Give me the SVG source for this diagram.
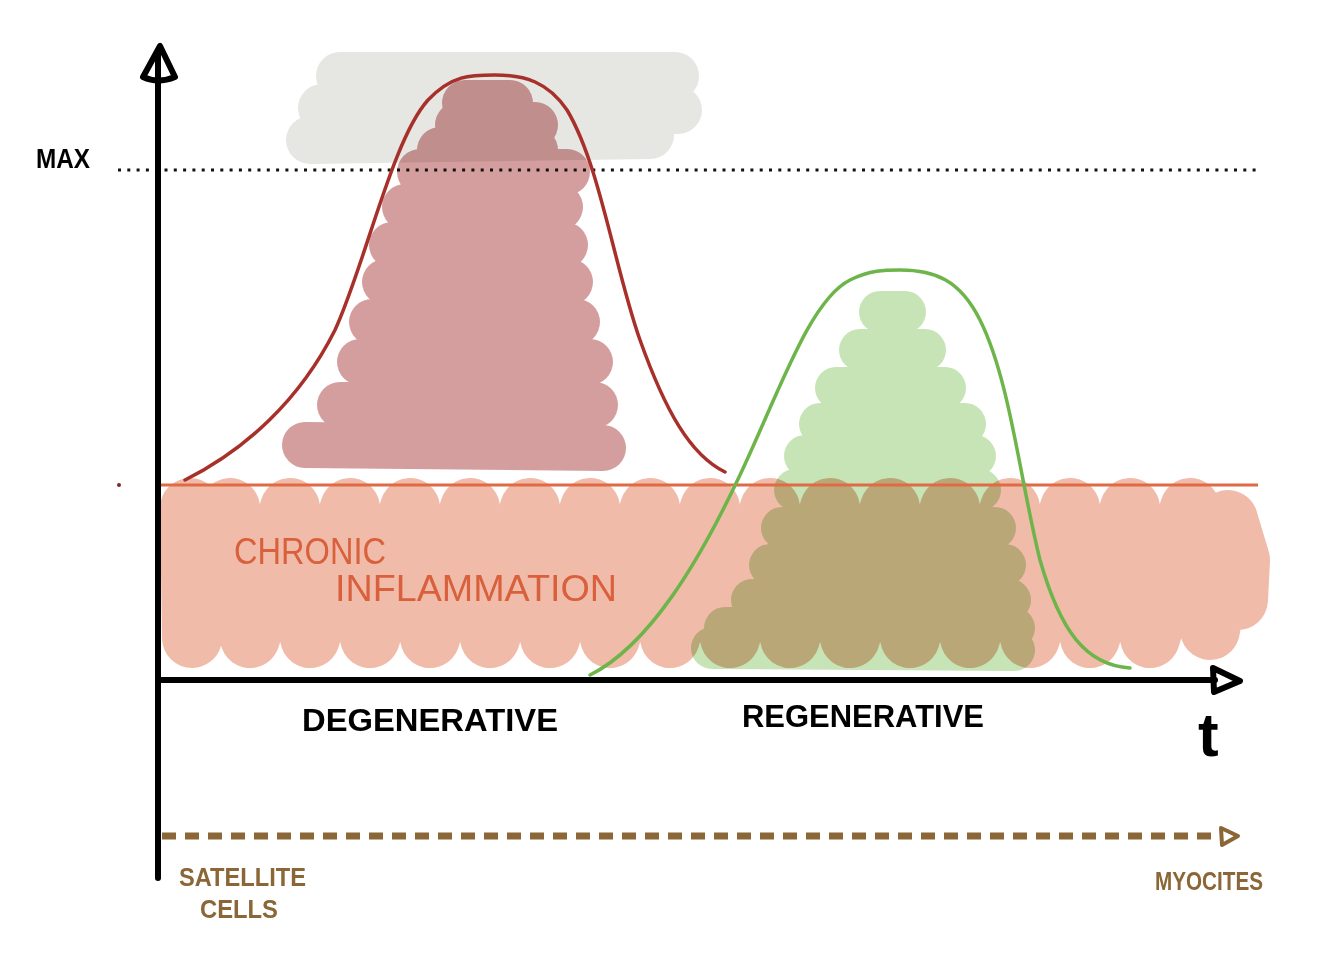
<svg xmlns="http://www.w3.org/2000/svg" width="1338" height="978" viewBox="0 0 1338 978">
<style>
.ax{stroke:#000;stroke-width:6;fill:none;stroke-linecap:round;stroke-linejoin:round}
.blend{mix-blend-mode:multiply}
.hand{font-family:"Liberation Sans","DejaVu Sans",sans-serif;font-weight:bold}
.inf{font-family:"Liberation Sans","DejaVu Sans",sans-serif;fill:#d9603c;font-size:36px}
.brown{fill:#8b6636}
</style>
<rect width="1338" height="978" fill="#fff"/>
<g id="cloud" stroke="#e6e6e2" stroke-width="48" stroke-linecap="round" fill="none">
<line x1="340" y1="76" x2="675" y2="76"/>
<line x1="322" y1="108" x2="678" y2="110"/>
<line x1="310" y1="140" x2="650" y2="135"/>
</g>
<g id="chronic-band">
<polyline fill="none" stroke="#f0bba8" stroke-width="60" stroke-linecap="round" stroke-linejoin="round" points="190,508 192,638 230,508 250,638 290,508 310,638 350,508 370,638 410,508 430,638 470,508 490,638 530,508 550,638 590,508 610,638 650,508 670,638 710,508 730,638 770,508 790,638 830,508 850,638 890,508 910,638 950,508 970,638 1010,508 1030,638 1070,508 1090,638 1130,508 1150,638 1190,508 1210,630 1228,520 1240,560 1238,600"/>
</g>
<g id="degenerative-fill" class="blend" stroke="#d59e9e" stroke-width="46" stroke-linecap="round" fill="none">
<line x1="305" y1="445" x2="603" y2="448"/>
<line x1="340" y1="405" x2="595" y2="405"/>
<line x1="360" y1="362" x2="590" y2="362"/>
<line x1="372" y1="322" x2="577" y2="322"/>
<line x1="385" y1="282" x2="570" y2="282"/>
<line x1="392" y1="245" x2="565" y2="245"/>
<line x1="405" y1="207" x2="560" y2="207"/>
<line x1="420" y1="172" x2="567" y2="172"/>
<line x1="440" y1="150" x2="535" y2="150"/>
<line x1="458" y1="125" x2="535" y2="125"/>
<line x1="465" y1="103" x2="510" y2="103"/>
</g>
<g id="regenerative-fill" class="blend" stroke="#c6e4b6" stroke-width="42" stroke-linecap="round" fill="none">
<line x1="880" y1="312" x2="905" y2="312"/>
<line x1="860" y1="350" x2="925" y2="350"/>
<line x1="836" y1="388" x2="945" y2="388"/>
<line x1="820" y1="424" x2="965" y2="424"/>
<line x1="805" y1="456" x2="975" y2="456"/>
<line x1="795" y1="490" x2="980" y2="490"/>
<line x1="782" y1="528" x2="995" y2="528"/>
<line x1="770" y1="565" x2="1005" y2="565"/>
<line x1="752" y1="600" x2="1010" y2="600"/>
<line x1="725" y1="628" x2="1014" y2="628"/>
<line x1="712" y1="648" x2="1014" y2="650"/>
</g>
<g id="connectors">
<line x1="118" y1="170" x2="1258" y2="170" stroke="#111" stroke-width="3" stroke-dasharray="3 6.3"/>
<line x1="160" y1="485" x2="1258" y2="485" stroke="#e06a45" stroke-width="3"/>
<circle cx="119" cy="485" r="2" fill="#7a2a2a"/>
<path d="M185,480 C245,450 300,400 335,330 C365,265 392,140 428,100 C452,75 470,75 495,75 C525,75 548,82 567,110 C600,165 615,270 640,340 C665,410 690,455 725,472" fill="none" stroke="#a8302a" stroke-width="3.5" stroke-linecap="round"/>
<path d="M590,675 C650,645 700,560 740,475 C780,390 810,300 850,280 C870,270 885,270 900,270 C935,270 960,280 980,320 C1010,380 1020,480 1040,560 C1060,630 1085,665 1130,668" fill="none" stroke="#6db54a" stroke-width="3.5" stroke-linecap="round"/>
<line x1="162" y1="836" x2="1218" y2="836" stroke="#8b6636" stroke-width="7" stroke-dasharray="14 9"/>
<path d="M1221,828 L1238,836 L1222,845 Z" fill="none" stroke="#8b6636" stroke-width="4" stroke-linejoin="round"/>
<line class="ax" x1="158" y1="52" x2="158" y2="878"/>
<path class="ax" d="M160,46 L143,77 Q158,84 175,77 Z"/>
<line class="ax" x1="158" y1="680" x2="1215" y2="680"/>
<path class="ax" d="M1213,668 L1240,681 L1214,692 Z"/>
</g>
<g id="labels">
<text class="hand" x="36" y="168" font-size="28" textLength="54" lengthAdjust="spacingAndGlyphs">MAX</text>
<text class="hand" x="1198" y="756" font-size="62">t</text>
<text class="hand" x="302" y="731" font-size="32" textLength="256" lengthAdjust="spacingAndGlyphs" font-weight="normal">DEGENERATIVE</text>
<text class="hand" x="742" y="727" font-size="32" textLength="242" lengthAdjust="spacingAndGlyphs" font-weight="normal">REGENERATIVE</text>
<text class="inf" x="234" y="564" textLength="152" lengthAdjust="spacingAndGlyphs">CHRONIC</text>
<text class="inf" x="335" y="601" textLength="282" lengthAdjust="spacingAndGlyphs">INFLAMMATION</text>
<text class="hand brown" x="179" y="886" font-size="25" textLength="127" lengthAdjust="spacingAndGlyphs">SATELLITE</text>
<text class="hand brown" x="200" y="918" font-size="25" textLength="78" lengthAdjust="spacingAndGlyphs">CELLS</text>
<text class="hand brown" x="1155" y="890" font-size="25" textLength="108" lengthAdjust="spacingAndGlyphs">MYOCITES</text>
</g>
</svg>
